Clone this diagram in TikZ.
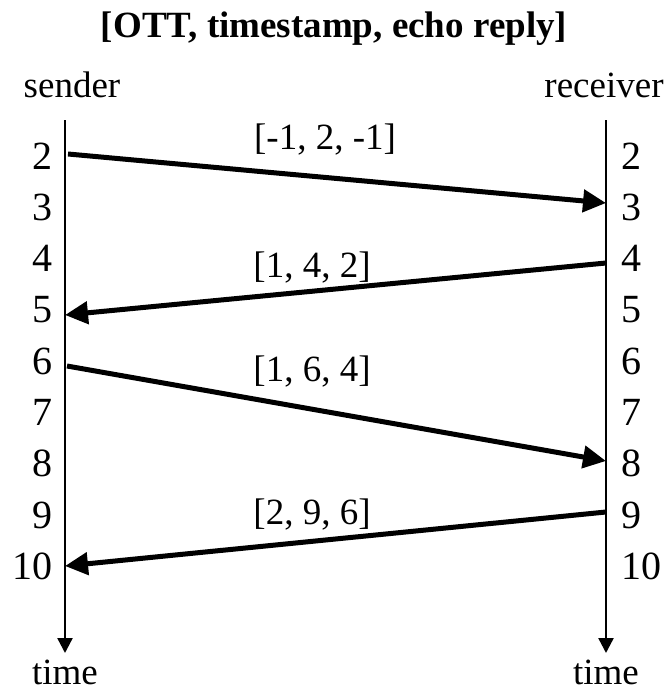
\documentclass[tikz,border=0pt]{standalone}
\usepackage{fontspec}
\setmainfont{Liberation Serif}
\usetikzlibrary{arrows.meta}
\begin{document}
\begin{tikzpicture}[x=1pt,y=-1pt,
  txt/.style={font=\fontsize{37}{40}\selectfont, inner sep=0pt},
  ttl/.style={font=\fontsize{37}{40}\selectfont\bfseries, inner sep=0pt},
  tick/.style={font=\fontsize{40}{44}\selectfont, inner sep=0pt},
  lifeline/.style={line width=2.4pt, -{Triangle[length=15pt,width=15pt]}},
  msg/.style={line width=5pt, -{Triangle[length=23pt,width=22pt]}}]
\useasboundingbox (0,0) rectangle (668,691);

% title and column heads
\node[ttl, anchor=base] (title) at (334,37) {[OTT, timestamp, echo reply]};
\node[txt, anchor=base] (snd) at (72,97) {sender};
\node[txt, anchor=base] (rcv) at (604,97) {receiver};

% lifelines
\coordinate (sTop) at (65,120);
\coordinate (sBot) at (65,653);
\coordinate (rTop) at (606,120);
\coordinate (rBot) at (606,653);
\draw[lifeline] (sTop) -- (sBot);
\draw[lifeline] (rTop) -- (rBot);
\node[txt, anchor=base] (sTime) at (65,684) {time};
\node[txt, anchor=base] (rTime) at (606,684) {time};

% clock ticks on both sides
\foreach \k [count=\i from 0] in {2,...,10} {
  \pgfmathsetmacro{\yy}{156+51.3*\i}
  \node[tick, anchor=east] (s\k) at (53,\yy) {\k};
  \node[tick, anchor=west] (r\k) at (621,\yy) {\k};
}

% message end points on the lifelines
\coordinate (m1a) at (68,154);
\coordinate (m1b) at (606,203);
\coordinate (m2a) at (606,263);
\coordinate (m2b) at (65,315);
\coordinate (m3a) at (67,366);
\coordinate (m3b) at (606,461);
\coordinate (m4a) at (606,512);
\coordinate (m4b) at (65,566);

\draw[msg] (m1a) -- (m1b);
\draw[msg] (m2a) -- (m2b);
\draw[msg] (m3a) -- (m3b);
\draw[msg] (m4a) -- (m4b);

% message contents
\node[txt] (l1) at (325,140) {[-1, 2, -1]};
\node[txt] (l2) at (312,268) {[1, 4, 2]};
\node[txt] (l3) at (312,372) {[1, 6, 4]};
\node[txt] (l4) at (312,515) {[2, 9, 6]};
\end{tikzpicture}
\end{document}
